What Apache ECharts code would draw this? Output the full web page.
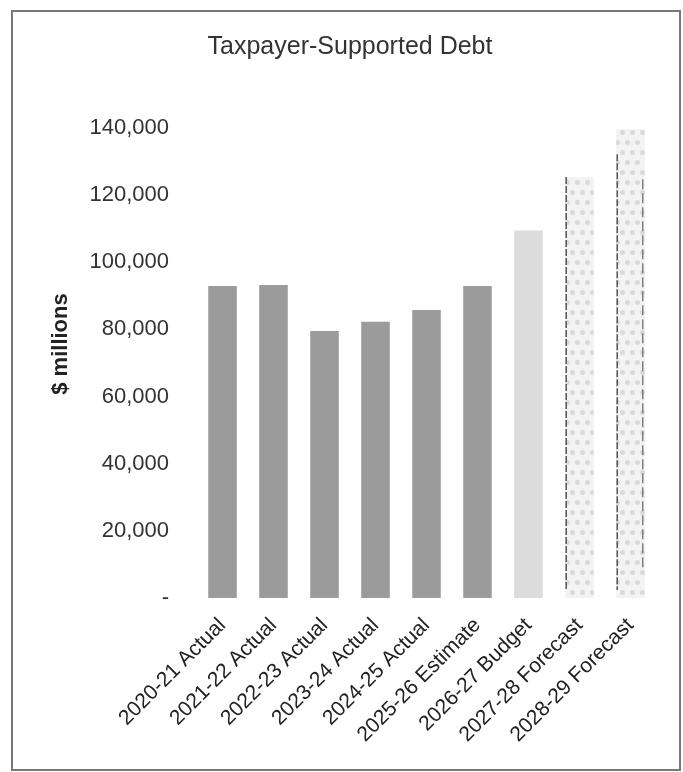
<!DOCTYPE html>
<html>
<head>
<meta charset="utf-8">
<script src="https://cdn.jsdelivr.net/npm/echarts@6/dist/echarts.min.js"></script>
<style>html,body{margin:0;padding:0;background:#fff;}#c{width:683px;height:772px;}</style>
</head>
<body>
<div id="c"></div>
<script>
const categories = ['2020-21 Actual','2021-22 Actual','2022-23 Actual','2023-24 Actual','2024-25 Actual','2025-26 Estimate','2026-27 Budget','2027-28 Forecast','2028-29 Forecast'];
const debtValues = [92900, 93200, 79500, 82300, 85800, 92900, 109500, 125400, 139600];
const yTicks = [0, 20000, 40000, 60000, 80000, 100000, 120000, 140000];
const forecastIdx = [7, 8];
const titleText = 'Taxpayer-Supported Debt';
const yAxisTitle = '$ millions';

const FONT = '"Liberation Sans", Arial, sans-serif';
const dotted = {color:'#f3f3f3', decal:{symbol:'circle', symbolSize:1, color:'#dadada', dashArrayX:[[5,5],[0,5,5,0]], dashArrayY:[5,5], rotation:0}};
const styles = [
  {color:'#9b9b9b'},{color:'#9b9b9b'},{color:'#9b9b9b'},{color:'#9b9b9b'},{color:'#9b9b9b'},{color:'#9b9b9b'},
  {color:'#dcdcdc'}, dotted, dotted
];
const BW = 0.56;

const chart = echarts.init(document.getElementById('c'), null, {renderer:'canvas'});
chart.setOption({
  animation:false,
  backgroundColor:'#fff',
  title:{text:titleText, left:345, top:30, textAlign:'center',
    textStyle:{fontFamily:FONT, fontSize:25, fontWeight:'normal', color:'#333'}},
  grid:{left:197, right:27, top:128, bottom:174, containLabel:false},
  xAxis:{type:'category', data:categories,
    axisLine:{show:false}, axisTick:{show:false},
    axisLabel:{rotate:45, interval:0, margin:24, fontFamily:FONT, fontSize:21, color:'#222'}},
  yAxis:{type:'value', min:yTicks[0], max:yTicks[yTicks.length-1], interval:20000,
    axisLine:{show:false}, axisTick:{show:false}, splitLine:{show:false},
    axisLabel:{margin:28, fontFamily:FONT, fontSize:22, color:'#333',
      formatter:v => v === 0 ? '-' : v.toLocaleString('en-US')}},
  series:[
    {type:'bar', barWidth:(BW*100)+'%',
      data:debtValues.map((v,i)=>({value:v, itemStyle:styles[i]}))},
    {type:'custom', silent:true, z:3,
      data:forecastIdx.map(i=>[i, debtValues[i]]),
      renderItem:(params, api)=>{
        const top = api.coord([api.value(0), api.value(1)]);
        const bot = api.coord([api.value(0), 0]);
        const w = api.size([1,0])[0]*BW;
        const xl = top[0]-w/2+1;
        const children = [{type:'line', shape:{x1:xl, y1:top[1]+(params.dataIndex?25:0), x2:xl, y2:bot[1]-8},
          style:{stroke:'#555', lineWidth:1.5, lineDash:[7,2]}}];
        if (params.dataIndex === 1) {
          const xr = top[0]+w/2-2;
          children.push({type:'line', shape:{x1:xr, y1:top[1]+50, x2:xr, y2:bot[1]-30},
            style:{stroke:'#666', lineWidth:1.2, lineDash:[10,4]}});
        }
        return {type:'group', children};
      }}
  ],
  graphic:[
    {type:'rect', shape:{x:12, y:11, width:668, height:759},
      style:{fill:'none', stroke:'#777', lineWidth:2}, silent:true},
    {type:'text', x:61, y:344, rotation:Math.PI/2,
      style:{text:yAxisTitle, font:'bold 22px "Liberation Sans", Arial, sans-serif', fill:'#222', align:'center', verticalAlign:'middle'}}
  ]
});
</script>
</body>
</html>
